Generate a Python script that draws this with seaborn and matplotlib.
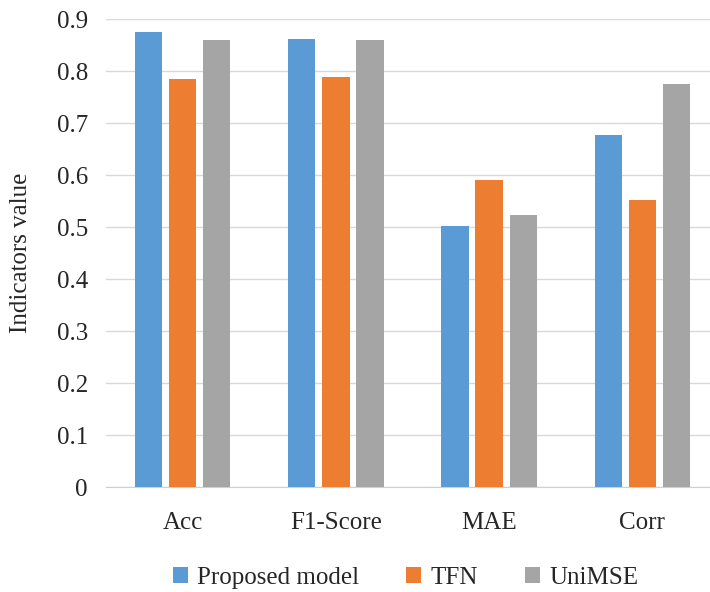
import matplotlib
matplotlib.use("Agg")
import matplotlib.pyplot as plt
import pandas as pd
import seaborn as sns

# =====================================================
# DATA
# =====================================================

metrics = ["Acc", "F1-Score", "MAE", "Corr"]
models = ["Proposed model", "TFN", "UniMSE"]

proposed = [0.875, 0.862, 0.502, 0.677]
tfn = [0.785, 0.788, 0.590, 0.552]
unimse = [0.860, 0.860, 0.523, 0.775]

colors = ["#5B9BD5", "#ED7D31", "#A5A5A5"]

df = pd.DataFrame({
    "metric": metrics * 3,
    "model": [models[0]] * 4 + [models[1]] * 4 + [models[2]] * 4,
    "value": proposed + tfn + unimse,
})

# =====================================================
# PLOT
# =====================================================

sns.set_style("white")
plt.rcParams["font.family"] = ["Liberation Serif", "DejaVu Serif"]

fig = plt.figure(figsize=(7.1, 5.92), dpi=100)
# axes runs a bit past the right edge, like the original
ax = fig.add_axes([106 / 710, 105 / 592, 613 / 710, 468 / 592])

sns.barplot(
    data=df,
    x="metric",
    y="value",
    hue="model",
    hue_order=models,
    palette=colors,
    width=0.667,
    gap=0.2,
    saturation=1,
    edgecolor="none",
    ax=ax,
    zorder=3,
)

ax.set_ylim(0, 0.9)
ax.set_yticks([i / 10 for i in range(10)])
ax.set_yticklabels(["0"] + [f"{i / 10:.1f}" for i in range(1, 10)])
ax.yaxis.grid(True, color="#D9D9D9", linewidth=1, zorder=0)
ax.set_axisbelow(True)

for side in ["top", "right", "left"]:
    ax.spines[side].set_visible(False)
ax.spines["bottom"].set_color("#D0D0D0")

ax.tick_params(axis="y", length=0, labelsize=18, pad=13)
ax.tick_params(axis="x", length=0, labelsize=18, pad=18)
ax.set_xlabel("")
ax.set_ylabel("Indicators value", fontsize=18, labelpad=18)

handles, labels = ax.get_legend_handles_labels()
ax.get_legend().remove()
fig.legend(
    handles,
    labels,
    loc="center",
    bbox_to_anchor=(0.571, 0.024),
    ncol=3,
    frameon=False,
    fontsize=18,
    handlelength=0.6,
    handleheight=0.6,
    columnspacing=1.9,
    handletextpad=0.36,
    borderaxespad=0,
    borderpad=0,
)

plt.savefig("out.png", dpi=100)
plt.close()
